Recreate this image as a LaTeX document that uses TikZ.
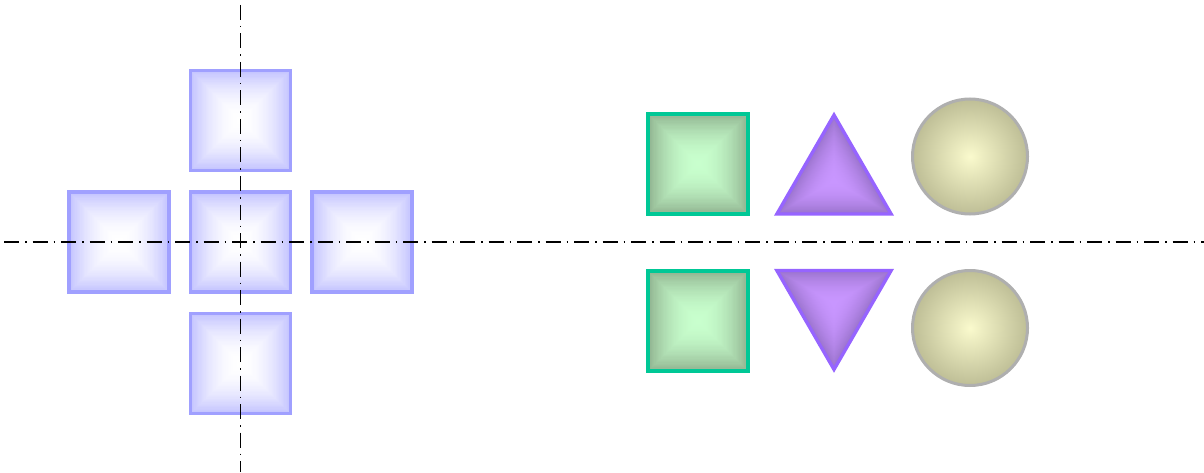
\documentclass[tikz,border=0pt]{standalone}
\usepackage{tikz}
\usetikzlibrary{calc}

\definecolor{crossedge}{RGB}{160,160,255}
\definecolor{crossout}{RGB}{195,195,255}
\definecolor{greenedge}{RGB}{0,200,150}
\definecolor{greenout}{RGB}{145,180,145}
\definecolor{greenin}{RGB}{200,255,205}
\definecolor{violetedge}{RGB}{150,100,255}
\definecolor{violetout}{RGB}{155,115,205}
\definecolor{violetin}{RGB}{200,150,255}
\definecolor{balledge}{RGB}{175,175,175}
\definecolor{ballout}{RGB}{190,190,150}
\definecolor{ballin}{RGB}{250,250,205}

\tikzset{
	centerline/.style={line width=1.5pt, dash pattern=on 15pt off 6pt on 1.5pt off 6pt},
	rim/.style={line width=3.3pt}
}

% square with a pyramid-like shading
\newcommand{\pyrsq}[4]{%
	\begin{scope}[shift={(#1)}]
		\foreach \k [evaluate=\k as \p using 100*(1-(1-\k/40)^2), evaluate=\k as \h using 50-1.25*\k] in {0,...,39}
			\fill[#2!\p!#3] (-\h,-\h) rectangle (\h,\h);
		\draw[#4, rim] (-50,-50) rectangle (50,50);
	\end{scope}}

% equilateral triangle, same shading
\newcommand{\pyrtri}[5]{%
	\begin{scope}[shift={(#1)}]
		\foreach \k [evaluate=\k as \p using 100*(1-(1-\k/40)^2), evaluate=\k as \r using 66-1.65*\k] in {0,...,39}
			\fill[#3!\p!#4] (#2:\r) -- (#2+120:\r) -- (#2+240:\r) -- cycle;
		\draw[#5, rim, line join=miter] (#2:66) -- (#2+120:66) -- (#2+240:66) -- cycle;
	\end{scope}}

\begin{document}
\begin{tikzpicture}[x=1pt, y=1pt]
	\useasboundingbox (0,0) rectangle (1204,472);

	% cross of squares
	\coordinate (mid) at (240.5,230);
	\coordinate (north) at (240.5,351.5);
	\coordinate (south) at (240.5,108.5);
	\coordinate (west) at (119,230);
	\coordinate (east) at (362,230);
	\foreach \s in {mid,north,south,west,east}{
		\pyrsq{\s}{white}{crossout}{crossedge}
	}

	% upper and lower row
	\coordinate (sqtop) at (698,308);
	\coordinate (sqbot) at (698,151);
	\coordinate (tritop) at (834,291);
	\coordinate (tribot) at (834,168.5);
	\coordinate (balltop) at (970,315.5);
	\coordinate (ballbot) at (970,144);

	\pyrsq{sqtop}{greenin}{greenout}{greenedge}
	\pyrsq{sqbot}{greenin}{greenout}{greenedge}
	\pyrtri{tritop}{90}{violetin}{violetout}{violetedge}
	\pyrtri{tribot}{270}{violetin}{violetout}{violetedge}
	\shade[inner color=ballin, outer color=ballout] (balltop) circle (57.5);
	\draw[balledge, rim, line width=3pt] (balltop) circle (57.5);
	\shade[inner color=ballin, outer color=ballout] (ballbot) circle (57.5);
	\draw[balledge, rim, line width=3pt] (ballbot) circle (57.5);

	% axes
	\coordinate (hl) at (4,230);
	\coordinate (hr) at (1204,230);
	\coordinate (vt) at (240.5,467);
	\coordinate (vb) at (240.5,0);
	\draw[centerline] (hl) -- (hr);
	\draw[centerline] (vt) -- (vb);
\end{tikzpicture}
\end{document}
